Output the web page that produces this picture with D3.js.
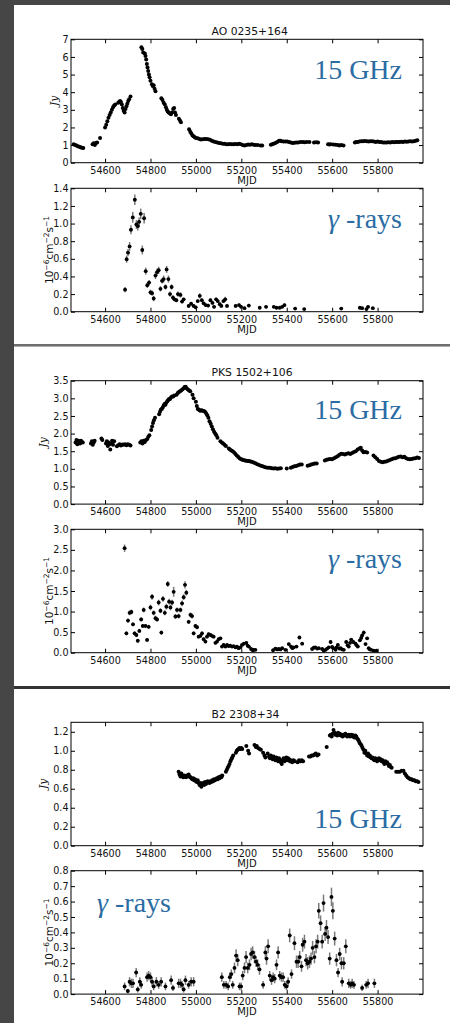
<!DOCTYPE html>
<html>
<head>
<meta charset="utf-8">
<script src="https://cdn.jsdelivr.net/npm/d3@7"></script>
<style>
  html, body { margin: 0; padding: 0; background: #474747; }
  svg { display: block; }
  .tick text { font-family: "DejaVu Sans", sans-serif; font-size: 9.6px; fill: #111; }
  .tick line { stroke: #000; stroke-width: 1; }
</style>
</head>
<body>
<svg id="chart" width="450" height="1023"></svg>
<script>
// ---- shared axis values ----
const mjdDomain = [54450, 56000];
const mjdTicks = [54600, 54800, 55000, 55200, 55400, 55600, 55800];

const titles = ["AO 0235+164", "PKS 1502+106", "B2 2308+34"];
const radioTag = "15 GHz";
const gammaTag = "-rays";

// ---- AO 0235+164 : 15 GHz flux density [MJD, Jy] ----
const aoRadio = [
  [54462,1.05],[54468,1.0],[54474,0.97],[54480,0.93],[54486,0.9],[54492,0.88],[54498,0.85],[54504,0.83],
  [54545,1.05],[54550,1.1],[54555,1.0],[54560,1.12],[54565,1.15],[54578,1.4],
  [54600,2.0],[54605,2.15],[54610,2.35],[54615,2.55],[54620,2.7],[54625,2.85],[54630,3.0],[54635,3.15],[54640,3.25],[54645,3.3],
  [54658,3.4],[54662,3.45],[54666,3.5],[54670,3.45],[54674,3.3],[54678,3.1],[54682,2.95],[54686,2.85],[54690,3.05],[54694,3.2],
  [54698,3.35],[54702,3.5],[54706,3.6],[54712,3.75],
  [54760,6.55],[54764,6.45],[54768,6.25],[54775,6.2],[54778,6.05],[54781,5.85],[54784,5.6],[54787,5.4],[54790,5.2],[54793,5.0],
  [54796,4.85],[54800,4.65],[54806,4.45],[54810,4.35],[54814,4.4],[54818,4.2],[54822,4.05],
  [54848,3.65],[54853,3.55],[54858,3.4],[54863,3.3],[54868,3.15],[54872,3.0],[54876,2.9],[54880,2.85],[54885,2.8],[54890,2.75],
  [54895,2.85],[54900,3.05],[54904,3.1],[54908,2.85],[54912,2.7],
  [54925,2.5],[54930,2.4],[54934,2.3],
  [54970,1.9],[54975,1.75],[54980,1.65],[54985,1.55],[54990,1.5],[54995,1.45],[55000,1.4],[55008,1.38],[55015,1.35],[55022,1.32],
  [55030,1.33],[55038,1.35],[55046,1.35],[55054,1.33],[55062,1.3],[55070,1.25],[55078,1.2],[55086,1.18],[55094,1.15],[55102,1.12],
  [55110,1.1],[55118,1.08],[55126,1.07],[55134,1.05],[55142,1.05],[55150,1.06],[55158,1.05],[55166,1.04],[55174,1.06],[55182,1.05],
  [55190,1.07],[55198,1.04],[55206,1.0],[55214,0.98],[55222,1.0],[55230,1.03],[55238,1.02],[55246,1.05],[55254,1.02],[55262,1.0],
  [55272,1.0],[55285,0.98],[55292,0.97],
  [55330,1.02],[55336,1.05],[55342,1.08],[55350,1.12],[55358,1.18],[55366,1.25],[55372,1.25],[55378,1.22],[55386,1.2],[55394,1.2],
  [55402,1.2],[55410,1.18],[55418,1.15],[55426,1.12],[55434,1.13],[55442,1.15],[55450,1.14],[55460,1.17],[55470,1.18],[55478,1.16],
  [55488,1.17],[55500,1.18],[55520,1.15],[55530,1.16],[55538,1.15],
  [55582,1.05],[55588,1.03],[55594,1.05],[55605,1.03],[55615,1.02],[55625,1.0],[55632,0.98],[55640,1.0],[55650,0.98],
  [55700,1.15],[55706,1.17],[55712,1.18],[55720,1.2],[55728,1.22],[55736,1.21],[55744,1.23],[55752,1.22],[55760,1.2],[55768,1.21],
  [55776,1.22],[55784,1.2],[55792,1.18],[55800,1.2],[55808,1.18],[55816,1.17],[55824,1.15],[55832,1.15],[55840,1.14],[55848,1.16],
  [55856,1.15],[55864,1.17],[55872,1.16],[55880,1.18],[55888,1.17],[55896,1.18],[55904,1.19],[55912,1.18],[55920,1.2],[55928,1.19],
  [55936,1.2],[55944,1.21],[55952,1.2],[55960,1.22],[55968,1.25],[55975,1.27]
];

// ---- AO 0235+164 : gamma-ray flux [MJD, 1e-6 cm^-2 s^-1, error] ----
const aoGamma = [
  [54688,0.25,0.03],[54695,0.595,0.04],[54701,0.67,0.04],[54708,0.74,0.05],[54714,0.93,0.05],[54722,1.07,0.06],[54731,1.27,0.06],
  [54738,0.99,0.05],[54744,0.97,0.05],[54750,1.02,0.05],[54757,1.11,0.06],[54764,0.70,0.05],[54772,1.06,0.06],[54779,0.46,0.04],
  [54786,0.30,0.03],[54794,0.33,0.03],[54800,0.22,0.03],[54807,0.21,0.03],[54814,0.15,0.03],[54822,0.41,0.04],[54829,0.45,0.04],
  [54836,0.47,0.04],[54844,0.26,0.03],[54851,0.35,0.03],[54858,0.37,0.04],[54866,0.28,0.03],[54871,0.48,0.04],[54879,0.37,0.04],
  [54886,0.20,0.03],[54893,0.28,0.03],[54899,0.16,0.03],[54906,0.14,0.02],[54914,0.13,0.02],[54921,0.20,0.03],[54932,0.19,0.03],
  [54939,0.115,0.02],[54946,0.14,0.02],[54968,0.065,0.02],[54979,0.09,0.02],[54990,0.065,0.02],[54999,0.05,0.02],[55008,0.12,0.02],
  [55017,0.18,0.03],[55026,0.13,0.02],[55034,0.095,0.02],[55043,0.075,0.02],[55054,0.07,0.02],[55064,0.13,0.02],[55073,0.10,0.02],
  [55080,0.055,0.02],[55089,0.14,0.02],[55096,0.12,0.02],[55105,0.085,0.02],[55112,0.065,0.02],[55121,0.12,0.02],[55129,0.14,0.03],
  [55137,0.065,0.02],[55175,0.065,0.02],[55190,0.075,0.02],[55199,0.055,0.02],[55214,0.04,0.015],[55233,0.07,0.02],[55281,0.045,0.015],
  [55309,0.055,0.015],[55343,0.055,0.015],[55355,0.045,0.015],[55369,0.045,0.015],[55380,0.055,0.015],[55390,0.075,0.02],
  [55437,0.035,0.01],[55477,0.03,0.01],[55640,0.035,0.01],[55722,0.045,0.015],[55732,0.04,0.01],[55751,0.03,0.01],[55758,0.055,0.015],
  [55779,0.04,0.01]
];

// ---- PKS 1502+106 : 15 GHz flux density [MJD, Jy] ----
const pksRadio = [
  [54470,1.75],[54474,1.82],[54478,1.7],[54482,1.8],[54486,1.78],[54490,1.72],[54494,1.8],[54498,1.76],[54502,1.75],
  [54538,1.72],[54542,1.78],[54546,1.68],[54550,1.75],[54554,1.8],
  [54584,1.86],[54588,1.82],
  [54604,1.72],[54608,1.78],[54612,1.65],[54616,1.75],[54620,1.7],[54623,1.55],[54627,1.72],[54631,1.8],[54635,1.68],[54640,1.78],
  [54652,1.64],[54658,1.67],[54664,1.7],[54670,1.66],[54676,1.69],[54682,1.68],[54688,1.7],[54694,1.67],[54700,1.7],[54706,1.68],[54712,1.66],
  [54755,1.75],[54760,1.78],[54765,1.72],[54770,1.8],[54775,1.76],[54780,1.82],[54785,1.84],[54790,1.9],[54795,1.95],
  [54803,2.1],[54807,2.2],[54811,2.3],[54815,2.38],[54820,2.45],
  [54838,2.55],[54842,2.62],[54846,2.68],[54850,2.7],[54854,2.74],[54858,2.8],[54862,2.84],[54866,2.82],[54870,2.88],[54874,2.92],
  [54878,2.95],[54882,2.98],[54886,2.98],[54890,3.02],[54895,3.05],[54900,3.05],[54905,3.08],
  [54915,3.1],[54920,3.15],[54925,3.18],[54930,3.2],[54935,3.22],[54940,3.25],[54945,3.28],[54950,3.32],[54955,3.33],[54960,3.28],
  [54965,3.25],[54970,3.22],[54975,3.2],
  [54985,3.1],[54990,3.0],
  [55000,2.9],[55004,2.78],[55008,2.7],[55012,2.68],[55016,2.66],[55020,2.65],[55025,2.66],[55030,2.65],[55035,2.64],[55040,2.62],
  [55045,2.58],[55050,2.52],[55055,2.45],[55060,2.35],[55065,2.28],[55070,2.2],[55075,2.12],[55080,2.05],[55085,2.0],[55090,1.95],[55095,1.88],
  [55108,1.78],[55114,1.75],[55120,1.72],[55126,1.68],[55132,1.65],
  [55145,1.58],[55150,1.55],[55156,1.52],[55162,1.5],[55168,1.46],[55174,1.42],[55180,1.38],[55186,1.34],[55192,1.3],[55198,1.28],
  [55204,1.26],[55210,1.25],[55216,1.24],[55222,1.23],[55228,1.22],[55234,1.22],[55240,1.21],[55246,1.2],
  [55254,1.18],[55262,1.16],[55270,1.13],[55278,1.11],[55286,1.09],[55294,1.07],[55302,1.05],[55310,1.04],[55318,1.03],[55326,1.03],
  [55334,1.02],[55342,1.01],[55350,1.02],[55358,1.0],[55366,1.01],[55374,1.02],
  [55400,1.01],
  [55418,1.03],[55426,1.05],[55434,1.07],[55442,1.08],[55450,1.1],[55458,1.12],[55466,1.12],
  [55492,1.09],[55500,1.1],[55508,1.12],[55516,1.14],[55524,1.15],[55532,1.15],
  [55568,1.24],[55576,1.26],[55584,1.27],[55592,1.28],[55600,1.27],[55608,1.3],[55616,1.33],[55624,1.36],[55632,1.4],[55640,1.43],
  [55648,1.42],[55656,1.41],[55664,1.43],[55672,1.44],[55680,1.42],[55688,1.45],[55696,1.48],[55704,1.5],[55712,1.55],[55720,1.58],
  [55726,1.6],[55732,1.52],[55738,1.47],[55746,1.48],[55754,1.46],
  [55782,1.38],[55790,1.33],[55798,1.28],[55806,1.22],[55814,1.2],[55822,1.19],[55830,1.2],[55838,1.21],[55846,1.23],[55854,1.25],
  [55862,1.27],[55870,1.29],[55878,1.3],[55886,1.32],[55894,1.34],[55902,1.35],[55910,1.33],[55918,1.34],[55926,1.3],[55934,1.28],
  [55942,1.27],[55950,1.28],[55958,1.29],[55966,1.3],[55974,1.32],[55982,1.31]
];

// ---- PKS 1502+106 : gamma-ray flux [MJD, 1e-6 cm^-2 s^-1, error] ----
const pksGamma = [
  [54686,2.54,0.09],[54694,0.47,0.05],[54701,0.78,0.05],[54708,0.97,0.06],[54716,0.99,0.06],[54723,0.69,0.05],[54730,0.47,0.05],
  [54738,0.43,0.05],[54744,0.29,0.04],[54751,0.53,0.05],[54759,0.81,0.05],[54766,0.65,0.05],[54770,1.04,0.06],[54778,0.65,0.05],
  [54785,0.31,0.04],[54792,0.63,0.05],[54800,1.10,0.07],[54807,1.36,0.07],[54814,0.97,0.06],[54822,0.84,0.06],[54829,0.81,0.06],
  [54836,1.22,0.07],[54844,1.02,0.06],[54848,0.49,0.05],[54855,1.31,0.07],[54863,0.97,0.06],[54870,1.12,0.07],[54876,1.67,0.07],
  [54882,1.24,0.07],[54888,1.10,0.07],[54895,1.22,0.07],[54902,1.48,0.12],[54910,0.88,0.06],[54917,1.04,0.06],[54924,0.89,0.06],
  [54932,1.04,0.06],[54939,1.20,0.07],[54946,1.35,0.07],[54952,1.65,0.09],[54958,1.46,0.07],[54968,0.75,0.05],[54976,0.92,0.06],
  [54983,0.89,0.06],[54990,0.47,0.05],[54998,0.65,0.05],[55005,0.62,0.05],[55012,0.39,0.04],[55020,0.41,0.04],[55027,0.47,0.05],
  [55034,0.33,0.04],[55042,0.27,0.04],[55049,0.39,0.04],[55056,0.45,0.04],[55064,0.43,0.04],[55071,0.41,0.04],[55078,0.39,0.04],
  [55086,0.24,0.04],[55093,0.27,0.04],[55100,0.33,0.04],[55108,0.35,0.04],[55115,0.15,0.03],[55122,0.19,0.03],[55130,0.15,0.03],
  [55137,0.19,0.03],[55144,0.16,0.03],[55151,0.17,0.03],[55159,0.15,0.03],[55166,0.16,0.03],[55174,0.13,0.03],[55181,0.15,0.03],
  [55188,0.11,0.03],[55196,0.13,0.03],[55203,0.19,0.03],[55211,0.22,0.04],[55222,0.24,0.04],[55228,0.17,0.03],[55233,0.15,0.03],
  [55243,0.09,0.03],[55250,0.06,0.02],[55255,0.07,0.02],[55262,0.07,0.02],
  [55340,0.06,0.02],[55350,0.10,0.03],[55358,0.08,0.02],[55365,0.09,0.03],[55372,0.08,0.02],[55380,0.11,0.03],[55394,0.07,0.02],
  [55409,0.21,0.03],[55419,0.15,0.03],[55425,0.11,0.03],[55431,0.13,0.03],[55443,0.15,0.03],[55456,0.37,0.04],[55468,0.22,0.04],
  [55512,0.09,0.03],[55519,0.12,0.03],[55526,0.13,0.03],[55534,0.10,0.03],[55541,0.11,0.03],[55556,0.09,0.03],[55563,0.05,0.02],
  [55571,0.07,0.02],[55578,0.10,0.03],[55585,0.13,0.03],[55593,0.26,0.04],[55600,0.14,0.03],[55605,0.11,0.03],[55615,0.07,0.02],
  [55620,0.13,0.03],[55625,0.19,0.03],[55632,0.10,0.03],[55637,0.11,0.03],[55644,0.08,0.02],[55651,0.07,0.02],[55662,0.26,0.04],
  [55668,0.18,0.03],[55673,0.15,0.03],[55679,0.24,0.04],[55684,0.32,0.04],[55693,0.26,0.04],[55703,0.22,0.04],[55708,0.18,0.03],
  [55713,0.15,0.03],[55722,0.30,0.04],[55728,0.36,0.04],[55732,0.42,0.04],[55739,0.49,0.05],[55747,0.21,0.04],[55754,0.35,0.04],
  [55761,0.11,0.03],[55766,0.08,0.02],[55772,0.07,0.02],[55783,0.05,0.02],[55795,0.05,0.02]
];

// ---- B2 2308+34 : 15 GHz flux density [MJD, Jy] ----
const b2Radio = [
  [54924,0.78],[54928,0.75],[54932,0.73],[54936,0.76],[54940,0.74],[54944,0.72],[54948,0.74],[54952,0.73],[54956,0.72],[54960,0.74],
  [54964,0.73],[54968,0.75],[54972,0.73],[54976,0.72],[54980,0.71],[54984,0.7],[54988,0.71],[54992,0.69],[54996,0.7],[55000,0.68],
  [55004,0.67],[55008,0.69],[55012,0.66],[55016,0.64],[55020,0.66],[55024,0.62],[55028,0.65],[55032,0.66],[55036,0.64],[55040,0.67],
  [55044,0.65],[55048,0.66],[55052,0.68],[55056,0.67],[55060,0.66],[55064,0.68],[55068,0.67],[55072,0.69],[55076,0.68],[55080,0.7],
  [55084,0.69],[55088,0.7],[55092,0.71],[55096,0.7],[55100,0.72],[55104,0.71],[55108,0.73],[55112,0.72],[55116,0.74],
  [55132,0.78],[55136,0.8],[55140,0.82],[55144,0.84],[55148,0.86],[55152,0.89],[55156,0.91],[55160,0.93],[55164,0.95],
  [55176,0.98],[55180,1.0],[55184,1.01],[55188,1.02],[55192,1.03],[55196,1.02],[55200,1.03],[55204,1.02],
  [55222,1.05],[55230,1.0],[55234,0.97],
  [55258,1.06],[55264,1.04],[55268,1.05],[55274,1.03],[55280,1.02],[55286,1.01],
  [55296,0.98],[55302,0.95],[55306,0.93],
  [55316,0.97],[55322,0.94],[55326,0.92],[55330,0.95],[55334,0.93],[55338,0.91],[55342,0.94],[55346,0.92],[55350,0.9],[55354,0.93],
  [55358,0.91],[55362,0.89],[55366,0.92],[55370,0.9],[55374,0.88],[55378,0.86],[55382,0.9],[55386,0.92],[55390,0.89],[55394,0.91],
  [55398,0.93],[55402,0.9],[55406,0.92],[55410,0.91],[55414,0.89],[55418,0.9],[55424,0.88],[55430,0.9],[55436,0.89],
  [55448,0.88],[55454,0.9],[55460,0.89],[55466,0.9],[55472,0.89],
  [55498,0.94],[55504,0.94],[55510,0.95],[55516,0.95],[55522,0.96],[55528,0.97],[55534,0.95],[55540,0.96],
  [55576,1.04],
  [55590,1.16],[55594,1.17],[55598,1.15],[55602,1.18],[55606,1.22],[55610,1.19],[55614,1.17],[55618,1.18],[55622,1.16],[55626,1.19],
  [55630,1.17],[55634,1.18],[55638,1.16],[55642,1.17],[55646,1.15],[55650,1.17],[55654,1.16],[55658,1.18],[55662,1.17],[55666,1.15],
  [55670,1.16],[55674,1.17],[55678,1.15],[55682,1.16],[55686,1.17],[55690,1.15],[55694,1.16],[55698,1.14],[55702,1.16],[55706,1.15],
  [55710,1.13],[55714,1.12],[55718,1.1],[55722,1.08],[55726,1.07],[55730,1.05],[55734,1.03],[55738,1.01],[55742,0.98],[55746,1.0],
  [55750,0.97],[55754,0.95],[55758,0.97],[55762,0.94],[55766,0.95],[55770,0.93],[55774,0.92],[55778,0.93],[55782,0.91],[55786,0.9],
  [55790,0.92],[55794,0.91],[55798,0.89],[55802,0.9],[55806,0.92],[55810,0.9],[55814,0.91],[55818,0.89],[55822,0.9],[55826,0.88],
  [55830,0.86],[55834,0.89],[55838,0.87],[55842,0.88],[55846,0.86],[55850,0.84],[55854,0.85],[55858,0.83],[55862,0.82],
  [55882,0.78],[55890,0.78],[55898,0.78],[55906,0.79],[55914,0.79],[55920,0.76],[55926,0.74],[55932,0.72],[55938,0.71],[55944,0.7],
  [55950,0.7],[55956,0.69],[55962,0.69],[55968,0.68],[55974,0.68],[55980,0.67]
];

// ---- B2 2308+34 : gamma-ray flux [MJD, 1e-6 cm^-2 s^-1, error] ----
const b2Gamma = [
  [54686,0.05,0.025],[54700,0.02,0.015],[54708,0.08,0.03],[54716,0.07,0.03],[54723,0.07,0.03],[54737,0.14,0.03],[54744,0.03,0.02],
  [54753,0.08,0.03],[54759,0.06,0.025],[54785,0.11,0.03],[54792,0.12,0.03],[54800,0.11,0.03],[54807,0.08,0.03],[54814,0.05,0.025],
  [54826,0.08,0.03],[54836,0.06,0.025],[54847,0.08,0.03],[54866,0.05,0.025],[54891,0.09,0.03],[54899,0.04,0.02],[54924,0.07,0.03],
  [54932,0.07,0.03],[54939,0.06,0.025],[54946,0.03,0.02],[54954,0.09,0.03],[54968,0.06,0.025],[54979,0.08,0.03],[54990,0.08,0.03],
  [55114,0.11,0.03],[55123,0.06,0.025],[55133,0.06,0.025],[55142,0.05,0.025],[55149,0.11,0.03],[55156,0.13,0.03],[55162,0.06,0.025],
  [55170,0.17,0.035],[55177,0.25,0.04],[55184,0.22,0.04],[55192,0.05,0.025],[55199,0.05,0.025],[55206,0.12,0.03],[55214,0.17,0.035],
  [55221,0.24,0.04],[55228,0.17,0.035],[55236,0.19,0.035],[55243,0.26,0.04],[55250,0.27,0.04],[55258,0.24,0.04],[55265,0.21,0.035],
  [55272,0.19,0.035],[55280,0.16,0.035],[55296,0.06,0.025],[55306,0.27,0.04],[55311,0.23,0.04],[55318,0.31,0.045],[55325,0.12,0.03],
  [55333,0.09,0.03],[55340,0.11,0.03],[55347,0.10,0.03],[55355,0.19,0.035],[55362,0.27,0.04],[55369,0.12,0.03],[55377,0.11,0.03],
  [55384,0.11,0.03],[55391,0.06,0.025],[55399,0.05,0.025],[55406,0.08,0.03],[55413,0.38,0.045],[55421,0.13,0.03],[55434,0.33,0.045],
  [55443,0.21,0.04],[55450,0.21,0.04],[55457,0.24,0.04],[55465,0.18,0.035],[55470,0.32,0.045],[55478,0.34,0.045],[55485,0.22,0.04],
  [55492,0.20,0.04],[55500,0.21,0.04],[55507,0.23,0.04],[55514,0.30,0.045],[55522,0.24,0.04],[55529,0.31,0.045],[55536,0.34,0.045],
  [55541,0.54,0.05],[55549,0.46,0.05],[55556,0.34,0.045],[55562,0.59,0.055],[55569,0.39,0.045],[55575,0.43,0.05],[55582,0.37,0.045],
  [55589,0.23,0.04],[55597,0.63,0.06],[55603,0.54,0.055],[55611,0.36,0.045],[55619,0.22,0.04],[55626,0.14,0.03],[55633,0.26,0.04],
  [55641,0.20,0.04],[55644,0.08,0.03],[55651,0.20,0.04],[55660,0.31,0.045],[55673,0.07,0.03],[55681,0.06,0.025],[55688,0.07,0.03],
  [55696,0.06,0.025],[55732,0.04,0.02],[55750,0.06,0.025],[55758,0.07,0.03],[55786,0.07,0.03]
];

// ---- y tick values per chart ----
const aoRadioTicks = [0, 1, 2, 3, 4, 5, 6, 7];
const aoGammaTicks = [0, 0.2, 0.4, 0.6, 0.8, 1.0, 1.2, 1.4];
const pksRadioTicks = [0, 0.5, 1.0, 1.5, 2.0, 2.5, 3.0, 3.5];
const pksGammaTicks = [0, 0.5, 1.0, 1.5, 2.0, 2.5, 3.0];
const b2RadioTicks = [0, 0.2, 0.4, 0.6, 0.8, 1.0, 1.2];
const b2GammaTicks = [0, 0.1, 0.2, 0.3, 0.4, 0.5, 0.6, 0.7, 0.8];

// ---- page layout ----
const svg = d3.select("#chart");
const W = 450, H = 1023;
const blue = "#2b6ca3";
const plotLeft = 71, plotRight = 423, plotH = 123.4;

// slide backdrop and white cards
svg.append("rect").attr("width", W).attr("height", H).attr("fill", "#464646");
svg.append("rect").attr("x", 14).attr("y", 344).attr("width", W - 14).attr("height", 2.5).attr("fill", "#6e6e6e");
svg.append("rect").attr("x", 14).attr("y", 686).attr("width", W - 14).attr("height", 3).attr("fill", "#333");
[[5, 339], [346.5, 339.5], [689, 334]].forEach(([y, h]) => {
  svg.append("rect").attr("x", 14).attr("y", y).attr("width", W - 14).attr("height", h).attr("fill", "#fff");
});

const x = d3.scaleLinear().domain(mjdDomain).range([plotLeft, plotRight]);

// labelX: baseline position of the rotated y label (sits left of the widest tick label)
const charts = [
  { top: 39.3, data: aoRadio, kind: "radio", domain: [0, 7], ticks: aoRadioTicks, fmt: d3.format("d"), labelX: 58,
    title: titles[0], tag: "radio", tagX: 402, tagDy: 39.7, tagAnchor: "end" },
  { top: 188.3, data: aoGamma, kind: "gamma", domain: [0, 1.4], ticks: aoGammaTicks, fmt: d3.format(".1f"), labelX: 52.5,
    tag: "gamma", tagX: 402, tagDy: 39.7, tagAnchor: "end" },
  { top: 380.7, data: pksRadio, kind: "radio", domain: [0, 3.5], ticks: pksRadioTicks, fmt: d3.format(".1f"), labelX: 46.5,
    title: titles[1], tag: "radio", tagX: 402, tagDy: 38.5, tagAnchor: "end" },
  { top: 529.3, data: pksGamma, kind: "gamma", domain: [0, 3.0], ticks: pksGammaTicks, fmt: d3.format(".1f"), labelX: 52.5,
    tag: "gamma", tagX: 402, tagDy: 39, tagAnchor: "end" },
  { top: 722.3, data: b2Radio, kind: "radio", domain: [0, 1.3], ticks: b2RadioTicks, fmt: d3.format(".1f"), labelX: 46.5,
    title: titles[2], tag: "radio", tagX: 402, tagDy: 106, tagAnchor: "end" },
  { top: 870.7, data: b2Gamma, kind: "gamma", domain: [0, 0.8], ticks: b2GammaTicks, fmt: d3.format(".1f"), labelX: 52.5,
    tag: "gamma", tagX: 97, tagDy: 41, tagAnchor: "start" }
];

charts.forEach(c => {
  const top = c.top, bottom = c.top + plotH;
  const y = d3.scaleLinear().domain(c.domain).range([bottom, top]);
  const g = svg.append("g");

  // axes: ticks point inwards on all four sides
  g.append("g").attr("transform", `translate(0,${bottom})`)
    .call(d3.axisBottom(x).tickValues(mjdTicks).tickFormat(d3.format("d")).tickSizeInner(-4).tickSizeOuter(0).tickPadding(4))
    .call(a => a.select(".domain").remove());
  g.append("g").attr("transform", `translate(0,${top})`)
    .call(d3.axisTop(x).tickValues(mjdTicks).tickFormat("").tickSizeInner(-4).tickSizeOuter(0))
    .call(a => a.select(".domain").remove());
  g.append("g").attr("transform", `translate(${plotLeft},0)`)
    .call(d3.axisLeft(y).tickValues(c.ticks).tickFormat(c.fmt).tickSizeInner(-4).tickSizeOuter(0).tickPadding(2.5))
    .call(a => a.select(".domain").remove());
  g.append("g").attr("transform", `translate(${plotRight},0)`)
    .call(d3.axisRight(y).tickValues(c.ticks).tickFormat("").tickSizeInner(-4).tickSizeOuter(0))
    .call(a => a.select(".domain").remove());

  // MJD axis label
  g.append("text").attr("x", (plotLeft + plotRight) / 2).attr("y", bottom + 20.8)
    .attr("text-anchor", "middle")
    .style("font-family", "DejaVu Sans, sans-serif").style("font-size", "10px").attr("fill", "#111")
    .text("MJD");

  // y axis label
  const yl = g.append("text")
    .attr("transform", `translate(${c.labelX},${(top + bottom) / 2}) rotate(-90)`)
    .attr("text-anchor", "middle")
    .style("font-family", "DejaVu Sans, sans-serif").style("font-size", "10.5px").attr("fill", "#111");
  if (c.kind === "radio") {
    yl.style("font-family", "DejaVu Serif, serif").style("font-style", "italic").text("Jy");
  } else {
    yl.append("tspan").text("10");
    yl.append("tspan").attr("dy", -4).style("font-size", "7.5px").text("\u22126");
    yl.append("tspan").attr("dy", 4).text("cm");
    yl.append("tspan").attr("dy", -4).style("font-size", "7.5px").text("\u22122");
    yl.append("tspan").attr("dy", 4).text("s");
    yl.append("tspan").attr("dy", -4).style("font-size", "7.5px").text("\u22121");
  }

  // title above the top panel of each source
  if (c.title) {
    g.append("text").attr("x", 211.5).attr("y", top - 4.3)
      .style("font-family", "DejaVu Sans, sans-serif").style("font-size", "10.8px").attr("fill", "#111")
      .text(c.title);
  }

  // data marks
  const marks = g.append("g");
  if (c.kind === "radio") {
    marks.selectAll("circle").data(c.data).join("circle")
      .attr("cx", d => x(d[0])).attr("cy", d => y(d[1])).attr("r", 2).attr("fill", "#000");
  } else {
    marks.selectAll("line.err").data(c.data).join("line").attr("class", "err")
      .attr("x1", d => x(d[0])).attr("x2", d => x(d[0]))
      .attr("y1", d => y(Math.max(0, d[1] - d[2]))).attr("y2", d => y(d[1] + d[2]))
      .attr("stroke", "#7a7a7a").attr("stroke-width", 1.5);
    marks.selectAll("line.bin").data(c.data).join("line").attr("class", "bin")
      .attr("x1", d => x(d[0]) - 1.6).attr("x2", d => x(d[0]) + 1.6)
      .attr("y1", d => y(d[1])).attr("y2", d => y(d[1]))
      .attr("stroke", "#000").attr("stroke-width", 1);
    marks.selectAll("circle").data(c.data).join("circle")
      .attr("cx", d => x(d[0])).attr("cy", d => y(d[1])).attr("r", 1.9).attr("fill", "#000");
  }

  // frame
  g.append("rect").attr("x", plotLeft).attr("y", top).attr("width", plotRight - plotLeft).attr("height", plotH)
    .attr("fill", "none").attr("stroke", "#000").attr("stroke-width", 1);

  // band annotation
  const tg = g.append("text").attr("x", c.tagX).attr("y", top + c.tagDy).attr("text-anchor", c.tagAnchor)
    .style("font-family", "Liberation Serif, serif").style("font-size", "28px").attr("fill", blue);
  if (c.tag === "radio") {
    tg.text(radioTag);
  } else {
    tg.append("tspan").style("font-style", "italic").text("\u03b3");
    tg.append("tspan").text(" " + gammaTag);
  }
});
</script>
</body>
</html>
